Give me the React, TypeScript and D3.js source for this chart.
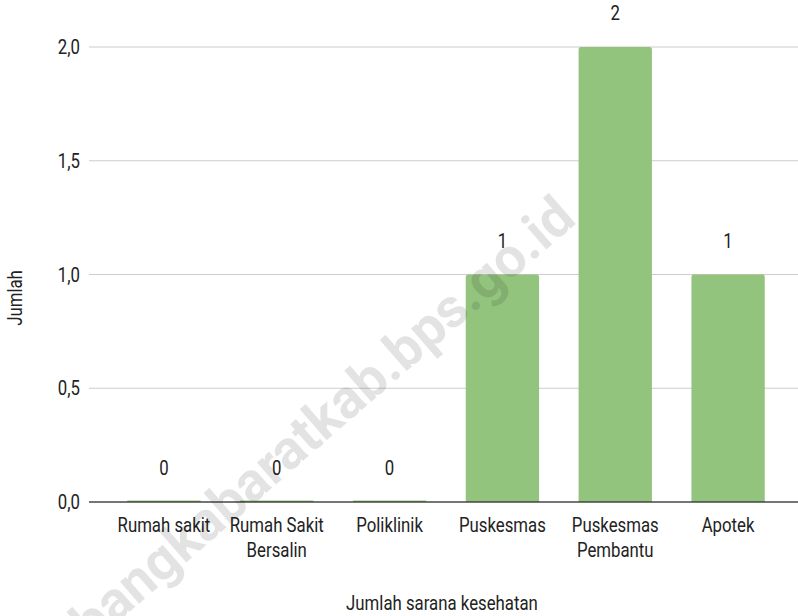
import { useEffect, useRef } from 'react'
import * as d3 from 'd3'

const categories = ['Rumah sakit', 'Rumah Sakit Bersalin', 'Poliklinik', 'Puskesmas', 'Puskesmas Pembantu', 'Apotek']
const categoryLines = [['Rumah sakit'], ['Rumah Sakit', 'Bersalin'], ['Poliklinik'], ['Puskesmas'], ['Puskesmas', 'Pembantu'], ['Apotek']]
const values = [0, 0, 0, 1, 2, 1]
const yTicks = [0, 0.5, 1, 1.5, 2]

const Chart = () => {
    const ref = useRef<SVGSVGElement | null>(null)

    useEffect(() => {
        if (!ref.current) return

        const width = 798
        const height = 616
        const font = 'Roboto, sans-serif'
        const fs = 20
        // the original font is a narrow one, so squeeze Roboto a little
        const sx = 0.84
        const at = (px: number, py: number) => `translate(${px},${py}) scale(${sx},1)`

        const svg = d3.select(ref.current)
        svg.selectAll('*').remove()
        svg.attr('width', width).attr('height', height)

        const x = d3
            .scaleBand()
            .domain(categories)
            .range([107.5, 784.5])
            .paddingInner(0.35)
            .paddingOuter(0.175)

        const y = d3.scaleLinear().domain([0, 2]).range([502, 47])

        const fmt = (d: number) => d3.format('.1f')(d).replace('.', ',')

        // gridlines
        svg.append('g')
            .selectAll('line')
            .data(yTicks.filter(d => d > 0))
            .join('line')
            .attr('x1', 89)
            .attr('x2', 798)
            .attr('y1', d => y(d))
            .attr('y2', d => y(d))
            .attr('stroke', '#cccccc')
            .attr('stroke-width', 1.2)

        // y tick labels
        svg.append('g')
            .selectAll('text')
            .data(yTicks)
            .join('text')
            .attr('transform', d => at(80, y(d)))
            .attr('dy', '0.36em')
            .attr('text-anchor', 'end')
            .attr('font-family', font)
            .attr('font-size', fs)
            .attr('fill', '#222')
            .text(d => fmt(d))

        // bars
        svg.append('g')
            .selectAll('path')
            .data(values)
            .join('path')
            .attr('d', (d, i) => {
                const x0 = x(categories[i])!
                const w = x.bandwidth()
                const top = Math.min(y(d), y(0) - 1.5)
                const r = d > 0 ? 2.5 : 0
                const b = y(0)
                return `M${x0},${b}V${top + r}Q${x0},${top} ${x0 + r},${top}H${x0 + w - r}Q${x0 + w},${top} ${x0 + w},${top + r}V${b}Z`
            })
            .attr('fill', '#93c47d')

        // baseline
        svg.append('line')
            .attr('x1', 89)
            .attr('x2', 798)
            .attr('y1', y(0))
            .attr('y2', y(0))
            .attr('stroke', '#333')
            .attr('stroke-width', 1.3)
            .attr('stroke-opacity', 0.9)

        // value labels
        svg.append('g')
            .selectAll('text')
            .data(values)
            .join('text')
            .attr('transform', (d, i) => at(x(categories[i])! + x.bandwidth() / 2, y(d) - 27))
            .attr('text-anchor', 'middle')
            .attr('font-family', font)
            .attr('font-size', fs)
            .attr('fill', '#222')
            .text(d => String(d))

        // x tick labels
        const xl = svg.append('g')
            .selectAll('text')
            .data(categories)
            .join('text')
            .attr('transform', d => at(x(d)! + x.bandwidth() / 2, 532))
            .attr('text-anchor', 'middle')
            .attr('font-family', font)
            .attr('font-size', fs)
            .attr('fill', '#222')
        xl.selectAll('tspan')
            .data((_, i) => categoryLines[i])
            .join('tspan')
            .attr('x', 0)
            .attr('dy', (_, j) => (j === 0 ? 0 : 25))
            .text(d => d)

        // axis titles
        svg.append('text')
            .attr('transform', at(442, 610))
            .attr('text-anchor', 'middle')
            .attr('font-family', font)
            .attr('font-size', fs)
            .attr('fill', '#222')
            .text('Jumlah sarana kesehatan')

        svg.append('text')
            .attr('transform', `translate(22,298) rotate(-90) scale(${sx},1)`)
            .attr('text-anchor', 'middle')
            .attr('font-family', font)
            .attr('font-size', fs)
            .attr('fill', '#222')
            .text('Jumlah')

        // watermark
        svg.append('text')
            .attr('transform', 'translate(578,222) rotate(-41)')
            .attr('text-anchor', 'end')
            .attr('font-family', font)
            .attr('font-weight', 'bold')
            .attr('font-size', 55)
            .attr('fill', '#000')
            .attr('fill-opacity', 0.11)
            .text('bangkabaratkab.bps.go.id')
    }, [])

    return <svg ref={ref} style={{ position: 'absolute', left: 0, top: 0, display: 'block' }}></svg>
}

export default function App() {
    return (
        <div style={{ background: '#fff' }}>
            <Chart />
        </div>
    )
}
